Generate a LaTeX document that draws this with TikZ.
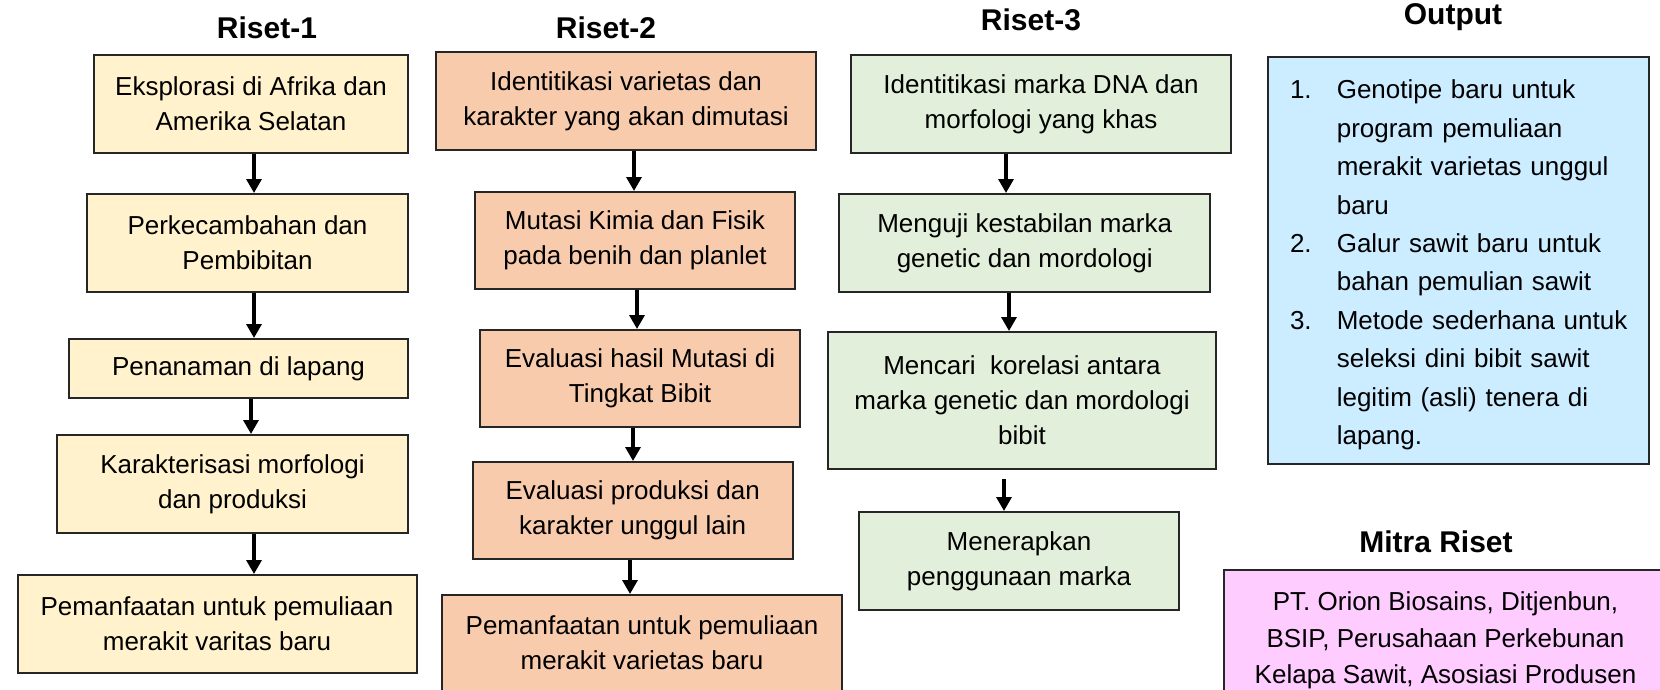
\documentclass[tikz,border=0pt]{standalone}
\usepackage{fontspec}
\setmainfont{Liberation Sans}
\usetikzlibrary{arrows.meta}
\definecolor{cy}{HTML}{FFF2CC}
\definecolor{co}{HTML}{F8CBAD}
\definecolor{cg}{HTML}{E2EFDA}
\definecolor{cb}{HTML}{CCECFF}
\definecolor{cp}{HTML}{FFCCFF}
\newcommand\numit[1]{\hspace*{5.75pt}\makebox[23.4pt][l]{#1}}
\newcommand\contit{\hspace*{29.15pt}}
\begin{document}
\begin{tikzpicture}[x=0.5pt,y=-0.5pt,
  bx/.style={draw=black!85, line width=1pt, align=center, inner sep=0pt,
    font=\fontsize{13pt}{17.5pt}\selectfont},
  ttl/.style={font=\fontsize{15pt}{18pt}\selectfont\bfseries, anchor=base, inner sep=0pt},
  arr/.style={line width=1.65pt, -{Triangle[length=7pt,width=7.5pt]}},
]
\useasboundingbox (0,0) rectangle (1660,690);
\clip (0,0) rectangle (1660,690);

% titles
\node[ttl] (t1) at (267,39) {Riset-1};
\node[ttl] (t2) at (606,39) {Riset-2};
\node[ttl] (t3) at (1031,31) {Riset-3};
\node[ttl] (t4) at (1453,25) {Output};
\node[ttl] (t5) at (1436,552) {Mitra Riset};

% Riset-1
\node[bx, fill=cy, minimum width=157pt, minimum height=49pt] (r1b1) at (251,104) {Eksplorasi di Afrika dan\\Amerika Selatan};
\node[bx, fill=cy, minimum width=160.5pt, minimum height=49pt] (r1b2) at (247.5,243) {Perkecambahan dan\\Pembibitan};
\node[bx, fill=cy, minimum width=169.5pt, minimum height=29.5pt] (r1b3) at (238.5,368.5) {Penanaman di lapang};
\node[bx, fill=cy, minimum width=175.5pt, minimum height=49pt] (r1b4) at (232.5,484) {Karakterisasi morfologi\\dan produksi};
\node[bx, fill=cy, minimum width=199.5pt, minimum height=49pt] (r1b5) at (217,624) {Pemanfaatan untuk pemuliaan\\merakit varitas baru};

% Riset-2
\node[bx, fill=co, minimum width=190pt, minimum height=49pt] (r2b1) at (626,101) {Identitikasi varietas dan\\karakter yang akan dimutasi};
\node[bx, fill=co, minimum width=160pt, minimum height=48.5pt] (r2b2) at (635,240.5) {Mutasi Kimia dan Fisik\\pada benih dan planlet};
\node[bx, fill=co, minimum width=160pt, minimum height=48.5pt] (r2b3) at (640,378.5) {Evaluasi hasil Mutasi di\\Tingkat Bibit};
\node[bx, fill=co, minimum width=160pt, minimum height=48.5pt] (r2b4) at (632.7,510.5) {Evaluasi produksi dan\\karakter unggul lain};
\node[bx, fill=co, minimum width=200pt, minimum height=48pt] (r2b5) at (642,643) {Pemanfaatan untuk pemuliaan\\merakit varietas baru};

% Riset-3
\node[bx, fill=cg, minimum width=190pt, minimum height=49pt] (r3b1) at (1041,104) {Identitikasi marka DNA dan\\morfologi yang khas};
\node[bx, fill=cg, minimum width=185.25pt, minimum height=49pt] (r3b2) at (1024.7,243) {Menguji kestabilan marka\\genetic dan mordologi};
\node[bx, fill=cg, minimum width=194pt, minimum height=68.5pt] (r3b3) at (1022,400.5) {Mencari\ \ korelasi antara\\marka genetic dan mordologi\\bibit};
\node[bx, fill=cg, minimum width=160pt, minimum height=49pt] (r3b4) at (1019,561) {Menerapkan\\penggunaan marka};

% Output
\node[bx, fill=cb, minimum width=190.5pt, minimum height=203.5pt] (out) at (1458.5,260.5) {};
\node[inner sep=0pt, text width=180pt, align=left,
  font=\fontsize{13pt}{19.2pt}\selectfont] (outtxt) at (1458.5,265)
  {\numit{1.}Genotipe baru untuk\\
   \contit program pemuliaan\\
   \contit merakit varietas unggul\\
   \contit baru\\
   \numit{2.}Galur sawit baru untuk\\
   \contit bahan pemulian sawit\\
   \numit{3.}Metode sederhana untuk\\
   \contit seleksi dini bibit sawit\\
   \contit legitim (asli) tenera di\\
   \contit lapang.};

% Mitra
\node[bx, fill=cp, minimum width=221.5pt, minimum height=70.5pt,
  font=\fontsize{13pt}{18.3pt}\selectfont] (mitra) at (1445.5,640.5)
  {PT. Orion Biosains, Ditjenbun,\\BSIP, Perusahaan Perkebunan\\Kelapa Sawit, Asosiasi Produsen};

% arrow columns
\coordinate (a11) at (254,0);
\coordinate (a13) at (251,0);
\coordinate (a21) at (634,0);
\coordinate (a22) at (637,0);
\coordinate (a23) at (633,0);
\coordinate (a24) at (630,0);
\coordinate (a31) at (1006,0);
\coordinate (a32) at (1009,0);
\coordinate (a33) at (1004,0);

\draw[arr] (r1b1.south -| a11) -- (r1b2.north -| a11);
\draw[arr] (r1b2.south -| a11) -- (r1b3.north -| a11);
\draw[arr] (r1b3.south -| a13) -- (r1b4.north -| a13);
\draw[arr] (r1b4.south -| a11) -- (r1b5.north -| a11);

\draw[arr] (r2b1.south -| a21) -- (r2b2.north -| a21);
\draw[arr] (r2b2.south -| a22) -- (r2b3.north -| a22);
\draw[arr] (r2b3.south -| a23) -- (r2b4.north -| a23);
\draw[arr] (r2b4.south -| a24) -- (r2b5.north -| a24);

\draw[arr] (r3b1.south -| a31) -- (r3b2.north -| a31);
\draw[arr] (r3b2.south -| a32) -- (r3b3.north -| a32);
\draw[arr, shorten <=4.5pt] (r3b3.south -| a33) -- (r3b4.north -| a33);
\end{tikzpicture}
\end{document}
